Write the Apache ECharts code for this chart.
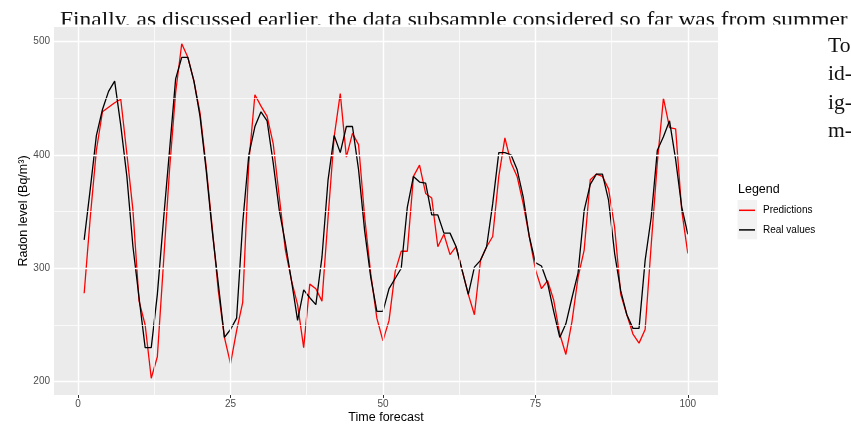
<!DOCTYPE html>
<html><head><meta charset="utf-8">
<script src="https://cdn.jsdelivr.net/npm/echarts@6/dist/echarts.min.js"></script>
<style>html,body{margin:0;padding:0;background:#fff}#c{width:851px;height:426px}</style>
</head><body><div id="c"></div>
<script>
const predictions = [278,345,404,438,442,446,449,401,351,271,250,203,222,304,387,455,498,486,465,437,390,336,280,239,216,245,270,393,453,443,434,410,363,316,289,268,230,286,282,271,345,416,454,398,419,409,345,295,256,236,254,297,315,315,381,391,366,362,319,330,312,319,298,277,259,307,319,328,381,415,393,381,357,328,299,282,289,272,242,224,253,292,316,378,383,381,370,336,277,259,242,234,246,321,393,450,424,423,351,313];
const realValues = [325,370,417,440,456,465,426,381,319,274,230,230,277,342,404,467,486,486,465,434,387,333,286,239,246,256,340,400,425,438,430,393,351,322,289,254,281,274,268,310,378,417,402,425,425,387,333,292,262,262,282,291,300,354,381,376,375,347,347,331,331,319,298,277,301,307,319,357,402,402,400,387,363,328,305,302,287,262,239,251,274,296,351,374,383,383,360,313,280,259,247,247,307,345,404,416,430,396,354,330];
const xTickLabels = [0,25,50,75,100];
const yTickLabels = [200,300,400,500];
const xMinorGrid = [12.5,37.5,62.5,87.5];
const yMinorGrid = [250,350,450];
const seriesNames = ['Predictions','Real values'];
const seriesColors = ['#FF0000','#000000'];

const toPairs = arr => arr.map((v,i)=>[i+1,v]);
const allY = predictions.concat(realValues);
const yLo = Math.min(...allY), yHi = Math.max(...allY);
const xLo = 1, xHi = predictions.length;
const yPad = (yHi-yLo)*0.05, xPad = (xHi-xLo)*0.05;

const gridLines = [];
xTickLabels.forEach(v=>gridLines.push({xAxis:v, lineStyle:{color:'#fff',width:1.4,type:'solid'}}));
xMinorGrid.forEach(v=>gridLines.push({xAxis:v, lineStyle:{color:'#fff',width:0.7,type:'solid'}}));
yTickLabels.forEach(v=>gridLines.push({yAxis:v, lineStyle:{color:'#fff',width:1.4,type:'solid'}}));
yMinorGrid.forEach(v=>gridLines.push({yAxis:v, lineStyle:{color:'#fff',width:0.7,type:'solid'}}));

const serif = '"Liberation Serif"';
const chart = echarts.init(document.getElementById('c'), null, {renderer:'canvas'});
chart.setOption({
  animation:false,
  backgroundColor:'#fff',
  grid:{left:54,right:133,top:27,bottom:31,show:true,backgroundColor:'#EBEBEB',borderWidth:0,
    containLabel:false,outerBoundsMode:'none'},
  xAxis:{type:'value',min:xLo-xPad,max:xHi+xPad,
    axisLine:{show:false},splitLine:{show:false},
    axisTick:{show:true,length:3,lineStyle:{color:'#333',width:1},customValues:xTickLabels},
    axisLabel:{color:'#4D4D4D',fontSize:10,fontFamily:'Liberation Sans',margin:4,customValues:xTickLabels},
    name:'Time forecast',nameLocation:'middle',nameGap:16,nameMoveOverlap:false,
    nameTextStyle:{color:'#000',fontSize:12.5,fontFamily:'Liberation Sans'}},
  yAxis:{type:'value',min:yLo-yPad,max:yHi+yPad,
    axisLine:{show:false},splitLine:{show:false},
    axisTick:{show:true,length:3,lineStyle:{color:'#333',width:1},customValues:yTickLabels},
    axisLabel:{color:'#4D4D4D',fontSize:10,fontFamily:'Liberation Sans',margin:4,customValues:yTickLabels},
    name:'Radon level (Bq/m³)',nameLocation:'middle',nameGap:24,nameRotate:90,nameMoveOverlap:false,
    nameTextStyle:{color:'#000',fontSize:12.5,fontFamily:'Liberation Sans'}},
  legend:{orient:'vertical',left:739,top:200.5,padding:0,itemGap:0,itemWidth:16,itemHeight:1.5,icon:'rect',
    data:seriesNames,
    textStyle:{color:'#000',fontSize:10,fontFamily:'Liberation Sans',lineHeight:19.6,padding:[0,0,0,3]}},
  graphic:[
    {type:'text',z:-10,x:60,y:10,scaleX:1.116,originX:0,originY:0,
      style:{text:'Finally, as discussed earlier, the data subsample considered so far was from summer',font:'21px '+serif,fill:'#111',verticalAlign:'top'}},
    {type:'rect',z:-5,shape:{x:0,y:24.5,width:851,height:20},style:{fill:'#fff'}},
    {type:'text',x:828,y:36.5,scaleX:1.08,style:{text:'To',font:'20px '+serif,fill:'#111',verticalAlign:'top'}},
    {type:'text',x:828,y:65,scaleX:1.08,style:{text:'id-',font:'20px '+serif,fill:'#111',verticalAlign:'top'}},
    {type:'text',x:828,y:93.5,scaleX:1.08,style:{text:'ig-',font:'20px '+serif,fill:'#111',verticalAlign:'top'}},
    {type:'text',x:828,y:122,scaleX:1.08,style:{text:'m-',font:'20px '+serif,fill:'#111',verticalAlign:'top'}},
    {type:'text',x:738,y:183,style:{text:'Legend',font:'12.5px "Liberation Sans"',fill:'#000',verticalAlign:'top'}},
    {type:'rect',z:-1,shape:{x:737.5,y:200,width:19.6,height:39.3},style:{fill:'#F2F2F2'}}
  ],
  series:[
    {type:'line',name:'_grid',data:[],z:1,silent:true,
      markLine:{silent:true,symbol:['none','none'],label:{show:false},animation:false,data:gridLines}},
    {type:'line',name:seriesNames[0],data:toPairs(predictions),showSymbol:false,z:3,
      lineStyle:{color:seriesColors[0],width:1.3},itemStyle:{color:seriesColors[0]}},
    {type:'line',name:seriesNames[1],data:toPairs(realValues),showSymbol:false,z:4,
      lineStyle:{color:seriesColors[1],width:1.3},itemStyle:{color:seriesColors[1]}}
  ]
});
</script></body></html>
